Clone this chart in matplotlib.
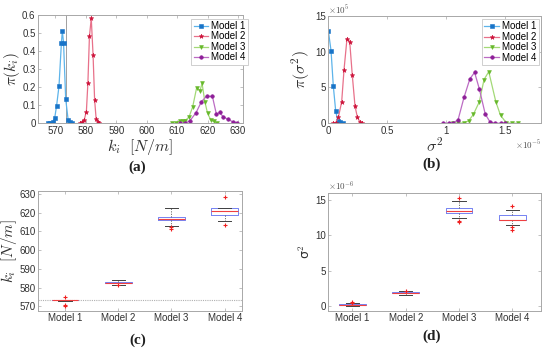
import matplotlib
matplotlib.use('Agg')
import matplotlib.pyplot as plt

plt.rcParams['font.family'] = ['Liberation Sans', 'DejaVu Sans']
plt.rcParams['mathtext.fontset'] = 'cm'

models = ['Model 1', 'Model 2', 'Model 3', 'Model 4']
marker_colors = ['#1874C8', '#CC1038', '#66B82A', '#8E1E98']
line_colors = ['#5DB4EA', '#E8718A', '#A3D977', '#BC6CC4']
markers = ['s', '*', 'v', 'o']
marker_sizes = [2.4, 3.4, 2.8, 2.6]

# (a) posterior of k_i
k_x = [
    [567.6, 568.4, 569.1, 569.8, 570.4, 571.2, 572.0, 572.3, 572.7, 573.4, 574.2, 574.8, 575.5],
    [578.2, 578.7, 579.5, 580.2, 580.7, 581.2, 581.8, 582.4, 582.9, 583.4, 584.0, 584.4],
    [608.2, 609.6, 610.9, 611.8, 612.7, 613.9, 615.1, 616.4, 617.5, 618.2, 619.1, 620.0, 621.0, 622.0, 623.1],
    [611.1, 612.6, 614.2, 616.2, 618.0, 619.7, 621.6, 622.9, 624.0, 625.1, 626.7, 628.2, 629.7],
]
k_pdf = [
    [0, 0, 0.005, 0.03, 0.095, 0.205, 0.445, 0.51, 0.445, 0.135, 0.02, 0.005, 0],
    [0, 0.005, 0.02, 0.065, 0.225, 0.48, 0.58, 0.375, 0.13, 0.025, 0.006, 0],
    [0, 0, 0.015, 0.015, 0.015, 0.035, 0.09, 0.195, 0.18, 0.22, 0.12, 0.055, 0.02, 0.01, 0],
    [0, 0, 0.014, 0.058, 0.12, 0.15, 0.148, 0.05, 0.06, 0.036, 0.022, 0.009, 0.003],
]
k_ref = 573.4

# (b) posterior of sigma^2 (x in 1e-5, y in 1e5)
s_x = [
    [0.0, 0.023, 0.042, 0.062, 0.079, 0.102, 0.121],
    [0.042, 0.062, 0.085, 0.113, 0.133, 0.158, 0.181, 0.203, 0.226, 0.246, 0.266, 0.288],
    [1.06, 1.10, 1.15, 1.19, 1.23, 1.28, 1.32, 1.36, 1.42, 1.46, 1.51, 1.56, 1.61],
    [0.97, 1.02, 1.06, 1.10, 1.15, 1.20, 1.24, 1.28, 1.33, 1.37, 1.41, 1.46, 1.50],
]
s_pdf = [
    [12.9, 10.1, 5.2, 1.76, 0.37, 0.14, 0],
    [0, 0.09, 0.84, 3.0, 7.5, 11.8, 11.4, 6.7, 2.4, 0.84, 0.23, 0],
    [0, 0, 0.05, 0.35, 1.25, 3.0, 6.1, 7.2, 3.0, 1.1, 0.05, 0, 0],
    [0, 0, 0.05, 0.5, 3.6, 6.2, 7.1, 4.8, 1.3, 0.2, 0, 0, 0],
]

# (c) boxplot of k_i
c_q1 = [573.1, 582.2, 616.2, 618.8]
c_med = [573.3, 582.5, 616.5, 620.8]
c_q3 = [573.5, 582.8, 618.0, 622.4]
c_lo = [573.0, 581.4, 612.9, 615.6]
c_hi = [573.6, 584.0, 622.4, 622.6]
c_fliers = [[574.8, 570.6, 570.2], [581.2], [612.3, 611.2], [628.6, 613.5]]

# (d) boxplot of sigma^2 (1e-6)
d_q1 = [0.05, 1.75, 13.2, 12.15]
d_med = [0.15, 1.85, 13.5, 12.2]
d_q3 = [0.3, 2.0, 13.9, 12.85]
d_lo = [0.0, 1.5, 12.4, 11.45]
d_hi = [0.35, 2.1, 14.8, 13.65]
d_fliers = [[0.4, 0.55], [2.15], [15.35, 12.05, 11.85], [14.15, 11.15, 10.8]]

spine_col = '#A8A8A8'
tick_col = '#303030'


def style_axes(ax):
    for s in ax.spines.values():
        s.set_color(spine_col)
        s.set_linewidth(0.7)
    ax.tick_params(direction='in', length=2, width=0.5, color=spine_col,
                   labelsize=7, labelcolor=tick_col, top=True, right=True, pad=2)


def add_legend(ax, anchor):
    leg = ax.legend(loc='upper right', bbox_to_anchor=anchor, fontsize=7,
                    handlelength=1.5, handletextpad=0.3, labelspacing=0.05,
                    borderpad=0.25, borderaxespad=0, fancybox=False, framealpha=1)
    leg.get_frame().set_edgecolor('#C8C8C8')
    leg.get_frame().set_linewidth(0.6)


fig = plt.figure(figsize=(5.5, 3.56), dpi=100)

# (a)
ax = fig.add_axes([0.0696, 0.6537, 0.372, 0.305])
style_axes(ax)
ax.axvline(k_ref, color='#A0A0A0', lw=0.7)
for i in range(4):
    ax.plot(k_x[i], k_pdf[i], color=line_colors[i], lw=0.9, label=models[i],
            marker=markers[i], markersize=marker_sizes[i],
            markerfacecolor=marker_colors[i], markeredgecolor=marker_colors[i],
            markeredgewidth=0.4)
ax.set_xlim(564.4, 631.6)
ax.set_ylim(0, 0.6)
ax.set_xticks([570, 580, 590, 600, 610, 620, 630])
ax.set_yticks([0, 0.1, 0.2, 0.3, 0.4, 0.5, 0.6])
ax.set_yticklabels(['0', '0.1', '0.2', '0.3', '0.4', '0.5', '0.6'])
ax.set_xlabel(r'$k_i\ \ [N/m]$', fontsize=11.5, color='#303030', labelpad=1)
ax.set_ylabel(r'$\pi(k_i)$', fontsize=11, color='#303030', labelpad=0)
add_legend(ax, (1.025, 0.965))

# (b)
ax = fig.add_axes([0.597, 0.6537, 0.386, 0.302])
style_axes(ax)
for i in range(4):
    ax.plot(s_x[i], s_pdf[i], color=line_colors[i], lw=0.9, label=models[i],
            marker=markers[i], markersize=marker_sizes[i],
            markerfacecolor=marker_colors[i], markeredgecolor=marker_colors[i],
            markeredgewidth=0.4)
ax.set_xlim(0, 1.8)
ax.set_ylim(0, 15)
ax.set_xticks([0, 0.5, 1, 1.5])
ax.set_xticklabels(['0', '0.5', '1', '1.5'])
ax.set_yticks([0, 5, 10, 15])
ax.set_xlabel(r'$\sigma^2$', fontsize=11.5, color='#303030', labelpad=0)
ax.set_ylabel(r'$\pi(\sigma^2)$', fontsize=11.5, color='#303030', labelpad=2)
ax.text(0.0, 1.0, r'$\times 10^{5}$', transform=ax.transAxes, fontsize=6.5,
        color='#505050', ha='left', va='bottom')
ax.text(1.0, -0.145, r'$\times 10^{-5}$', transform=ax.transAxes, fontsize=6.5,
        color='#505050', ha='right', va='top')
add_legend(ax, (0.99, 0.97))


def box_stats(q1, med, q3, lo, hi, fliers):
    return [dict(q1=q1[i], med=med[i], q3=q3[i], whislo=lo[i], whishi=hi[i],
                 fliers=fliers[i], label=models[i]) for i in range(len(q1))]


box_kw = dict(widths=0.5, showfliers=True,
              boxprops=dict(color='#7482F2', lw=0.7),
              medianprops=dict(color='#F04040', lw=0.8),
              whiskerprops=dict(color='#606060', lw=0.6, linestyle=(0, (1.5, 1.5))),
              capprops=dict(color='#404040', lw=0.7),
              flierprops=dict(marker='+', markeredgecolor='#F02020', markersize=3,
                              markeredgewidth=0.8))

# (c)
ax = fig.add_axes([0.0696, 0.1272, 0.371, 0.335])
style_axes(ax)
ax.axhline(k_ref, color='#B0B0B0', lw=0.8, linestyle=(0, (1, 1)))
ax.bxp(box_stats(c_q1, c_med, c_q3, c_lo, c_hi, c_fliers), **box_kw)
ax.set_xlim(0.5, 4.33)
ax.set_ylim(567.6, 631.4)
ax.set_yticks([570, 580, 590, 600, 610, 620, 630])
ax.set_ylabel(r'$k_i\ \ [N/m]$', fontsize=11, color='#303030', labelpad=0)

# (d)
ax = fig.add_axes([0.597, 0.1272, 0.386, 0.3306])
style_axes(ax)
ax.bxp(box_stats(d_q1, d_med, d_q3, d_lo, d_hi, d_fliers), **box_kw)
ax.set_xlim(0.55, 4.53)
ax.set_ylim(-0.7, 16)
ax.set_yticks([0, 5, 10, 15])
ax.set_ylabel('σ$^2$', fontsize=9, color='#303030', labelpad=1,
              family='DejaVu Sans')
ax.text(0.0, 1.0, r'$\times 10^{-6}$', transform=ax.transAxes, fontsize=6.5,
        color='#505050', ha='left', va='bottom')

# panel letters
for x, y, t in [(0.25, 0.53, '(a)'), (0.785, 0.54, '(b)'),
                (0.25, 0.045, '(c)'), (0.785, 0.055, '(d)')]:
    fig.text(x, y, t, fontsize=11, ha='center', va='center',
             family='Liberation Serif', fontweight='bold', color='#202020')

fig.savefig('out.png', dpi=100)
